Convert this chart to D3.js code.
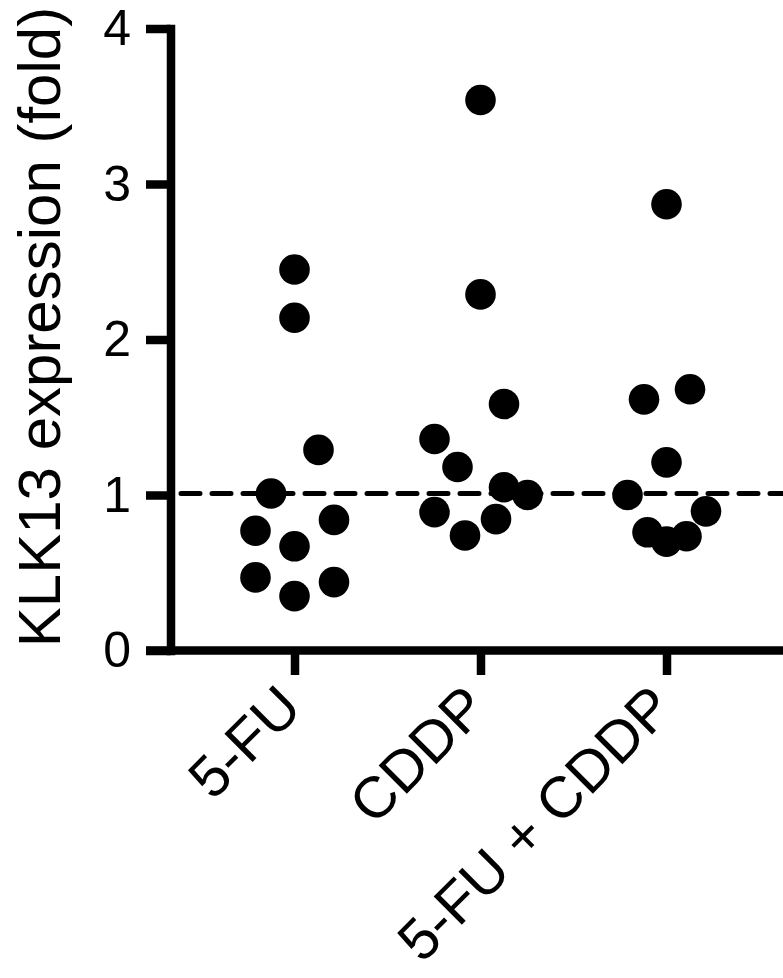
<!DOCTYPE html>
<html>
<head>
<meta charset="utf-8">
<script src="https://cdn.jsdelivr.net/npm/d3@7"></script>
<style>
  body { margin: 0; background: #fff; }
  text { font-family: "Liberation Sans", Arial, Helvetica, sans-serif; fill: #000; }
</style>
</head>
<body>
<script>
// groups and values
var categories = ["5-FU", "CDDP", "5-FU + CDDP"];

var fuValues   = [2.45, 2.14, 1.29, 1.01, 0.77, 0.67, 0.84, 0.47, 0.35, 0.44];
var fuSpread   = [0, 0, 0.48, -0.47, -0.78, 0, 0.79, -0.78, 0, 0.79];

var cddpValues = [3.54, 2.29, 1.585, 1.36, 1.18, 1.05, 1.0, 0.89, 0.845, 0.74];
var cddpSpread = [0, 0, 0.47, -0.92, -0.46, 0.47, 0.94, -0.92, 0.31, -0.31];

var comboValues = [2.87, 1.615, 1.68, 1.21, 1.0, 0.895, 0.76, 0.70, 0.735];
var comboSpread = [0, -0.45, 0.47, 0, -0.78, 0.79, -0.38, 0, 0.4];

var yTicks = [0, 1, 2, 3, 4];
var refValue = 1;
var yLabel = "KLK13 expression (fold)";

var width = 783;
var height = 978;

var svg = d3.select("body").append("svg")
    .attr("width", width)
    .attr("height", height);

var y = d3.scaleLinear().domain([0, 4]).range([650.5, 28.5]);
var x = d3.scalePoint().domain(categories).range([294.5, 666.5]);
var spread = d3.scaleLinear().domain([-1, 1]).range([-50, 50]);

var axisX = 170.5;
var lw = 8.5;

var groups = [
  {cat: "5-FU", values: fuValues, spread: fuSpread},
  {cat: "CDDP", values: cddpValues, spread: cddpSpread},
  {cat: "5-FU + CDDP", values: comboValues, spread: comboSpread}
];

var points = [];
groups.forEach(function(g){
  g.values.forEach(function(v, i){
    points.push({cat: g.cat, value: v, off: g.spread[i]});
  });
});

// dashed reference line at 1
svg.append("line")
    .attr("x1", 181)
    .attr("x2", width)
    .attr("y1", y(refValue) - 1.5)
    .attr("y2", y(refValue) - 1.5)
    .attr("stroke", "#000")
    .attr("stroke-width", 5)
    .attr("stroke-linecap", "round")
    .attr("stroke-dasharray", "19,12");

// points
svg.selectAll(".dot")
    .data(points)
  .enter().append("circle")
    .attr("class", "dot")
    .attr("cx", function(d){ return x(d.cat) + spread(d.off); })
    .attr("cy", function(d){ return y(d.value); })
    .attr("r", 15.3)
    .attr("fill", "#000");

// y axis
var yAxis = svg.append("g")
    .attr("transform", "translate(" + axisX + ",0)")
    .call(d3.axisLeft(y).tickValues(yTicks).tickFormat(d3.format("d"))
      .tickSize(24.5).tickSizeOuter(0).tickPadding(15));

yAxis.select(".domain")
    .attr("stroke-width", lw)
    .attr("stroke-linecap", "square");
yAxis.selectAll(".tick line")
    .attr("stroke-width", lw);
yAxis.selectAll(".tick text")
    .attr("font-size", 50)
    .attr("font-family", "Liberation Sans, Arial, sans-serif");

// x axis
svg.append("line")
    .attr("x1", 146)
    .attr("x2", width)
    .attr("y1", y(0))
    .attr("y2", y(0))
    .attr("stroke", "#000")
    .attr("stroke-width", lw);

var xAxis = svg.append("g")
    .attr("transform", "translate(0," + y(0) + ")")
    .call(d3.axisBottom(x).tickSize(24.5).tickSizeOuter(0));

xAxis.select(".domain").remove();
xAxis.selectAll(".tick line")
    .attr("stroke-width", lw);
xAxis.selectAll(".tick text")
    .attr("font-size", 58)
    .attr("font-family", "Liberation Sans, Arial, sans-serif")
    .attr("text-anchor", "end")
    .attr("x", 0)
    .attr("y", 0)
    .attr("dy", 0)
    .attr("transform", "translate(9,60) rotate(-45)");

// y label
svg.append("text")
    .attr("transform", "translate(60," + 327 + ") rotate(-90)")
    .attr("text-anchor", "middle")
    .attr("font-size", 60)
    .text(yLabel);
</script>
</body>
</html>
